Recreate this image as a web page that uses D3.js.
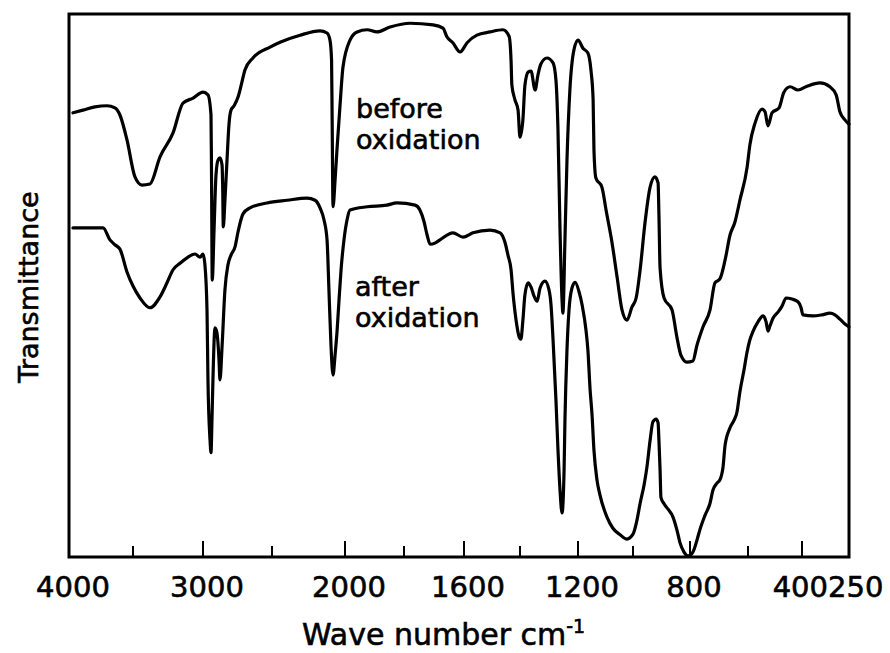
<!DOCTYPE html>
<html><head><meta charset="utf-8">
<script src="https://cdn.jsdelivr.net/npm/d3@7/dist/d3.min.js"></script>
<style>body{margin:0;background:#fff}svg text{font-family:"DejaVu Sans",sans-serif;fill:#000;stroke:#000;stroke-width:0.6px}</style>
</head><body>
<svg id="c" width="890" height="653"></svg>
<script>
// ---- data ----
const majorTicks = [3000, 2000, 1600, 1200, 800, 400];
const minorTicks = [3500, 2500, 1800, 1400, 1000, 600];
const tickLabels = [4000, 3000, 2000, 1600, 1200, 800, 400, 250];
const xTitle = "Wave number cm";
const xTitleSup = "-1";
const yTitle = "Transmittance";
const labelBefore = ["before", "oxidation"];
const labelAfter = ["after", "oxidation"];

// [wave number cm-1, transmittance (arbitrary %)]
const before = [
[3969,81.8],[3891,82.3],[3797,82.9],[3703,83.1],[3641,82.7],[3602,81.4],[3547,76.8],[3486,70.0],[3436,68.5],[3379,68.7],
[3307,73.7],[3214,78.1],[3143,83.6],[3071,84.5],[3000,85.6],[2964,85.1],[2942,81.4],[2938,69.4],[2933,51.0],[2920,60.2],
[2906,70.3],[2891,73.1],[2877,73.5],[2862,72.2],[2857,67.6],[2853,60.8],[2841,65.7],[2826,73.1],[2812,79.6],[2797,82.3],
[2775,83.1],[2746,84.7],[2725,86.7],[2696,89.7],[2638,91.9],[2514,93.9],[2445,94.8],[2308,96.1],[2171,96.9],[2123,96.5],
[2103,95.2],[2092,91.5],[2088,80.5],[2082,64.5],[2068,69.4],[2055,75.0],[2034,83.2],[2014,90.2],[1983,95.2],[1959,96.7],
[1925,97.1],[1892,96.7],[1847,97.6],[1780,98.3],[1703,98.0],[1670,97.4],[1657,95.8],[1637,94.7],[1613,93.0],[1589,94.7],
[1554,96.1],[1507,96.7],[1461,97.1],[1439,95.9],[1432,91.5],[1429,86.9],[1418,84.2],[1407,82.3],[1400,77.3],[1390,80.5],
[1383,86.9],[1372,89.3],[1362,89.5],[1348,86.0],[1338,88.8],[1328,90.8],[1307,91.9],[1286,91.0],[1276,87.8],[1269,78.6],
[1262,60.2],[1255,47.3],[1252,44.9],[1245,58.4],[1238,73.1],[1228,86.0],[1214,93.4],[1200,95.2],[1182,93.7],[1164,92.8],
[1153,89.7],[1145,84.2],[1142,75.0],[1135,69.8],[1113,68.1],[1098,63.9],[1076,57.8],[1058,51.6],[1040,45.5],[1022,43.6],
[1004,46.0],[989,47.7],[975,52.9],[958,61.5],[940,68.1],[923,70.0],[912,68.9],[909,63.0],[905,53.2],[891,47.7],
[863,45.5],[846,40.5],[832,37.2],[811,35.9],[790,36.1],[776,39.0],[755,42.4],[731,45.5],[714,50.5],[697,51.2],
[679,54.7],[662,59.3],[645,61.7],[628,65.7],[603,71.8],[593,75.9],[574,79.9],[548,82.5],[537,82.0],[526,79.4],
[511,81.8],[485,82.7],[467,85.6],[444,86.6],[415,86.0],[384,86.7],[343,87.3],[311,86.6],[291,85.1],[279,82.0],
[263,80.5],[250,79.7]
];
const after = [
[3969,60.6],[3836,60.6],[3734,60.6],[3680,58.4],[3641,57.5],[3602,56.7],[3547,52.5],[3500,49.9],[3450,47.7],[3379,45.9],
[3307,47.9],[3257,50.5],[3214,52.9],[3164,54.1],[3114,55.1],[3057,55.8],[3021,55.2],[3000,55.8],[2986,53.8],[2971,45.5],
[2964,32.6],[2949,21.5],[2942,19.2],[2935,25.2],[2928,32.6],[2913,42.2],[2899,41.3],[2884,36.3],[2877,32.6],[2862,38.7],
[2841,49.2],[2819,53.8],[2797,55.6],[2768,57.1],[2746,59.9],[2710,63.2],[2659,64.3],[2536,65.2],[2397,65.7],[2260,66.1],
[2205,65.7],[2171,64.3],[2144,62.1],[2123,58.4],[2110,49.2],[2096,39.0],[2082,33.5],[2068,37.2],[2055,41.3],[2041,47.3],
[2027,52.9],[2007,58.4],[1993,62.1],[1983,63.9],[1925,64.5],[1858,64.8],[1824,65.2],[1763,64.8],[1747,63.9],[1733,61.7],
[1723,59.3],[1713,57.6],[1697,57.8],[1680,58.4],[1637,59.7],[1603,58.9],[1568,59.7],[1507,60.2],[1471,59.7],[1454,58.0],
[1443,55.6],[1432,52.9],[1425,48.6],[1414,43.6],[1404,40.7],[1397,40.1],[1390,43.6],[1383,48.3],[1372,50.5],[1362,49.7],
[1352,48.1],[1341,47.1],[1331,49.5],[1314,50.8],[1300,49.2],[1293,46.4],[1286,40.0],[1276,28.9],[1269,19.7],[1262,12.3],
[1255,8.1],[1248,16.0],[1245,25.2],[1238,38.1],[1231,45.5],[1221,49.5],[1210,50.6],[1196,48.8],[1185,46.4],[1171,41.8],
[1164,38.1],[1156,30.8],[1149,26.2],[1142,19.7],[1131,14.2],[1120,11.4],[1095,7.4],[1073,5.3],[1047,4.1],[1022,3.3],
[1000,4.2],[986,6.8],[975,9.9],[961,13.3],[951,16.6],[940,21.5],[930,24.9],[919,25.4],[912,24.7],[909,21.5],
[905,16.0],[902,11.0],[891,9.8],[877,8.8],[860,7.4],[846,5.0],[835,2.6],[821,0.9],[807,0.2],[790,0.9],
[776,3.1],[766,5.0],[748,7.7],[731,9.9],[721,12.3],[707,13.6],[697,14.2],[686,16.6],[679,20.6],[662,23.8],
[648,25.2],[638,26.7],[628,30.4],[614,34.4],[603,37.8],[593,40.0],[581,41.6],[563,43.3],[544,44.4],[533,43.3],
[526,41.6],[519,42.5],[507,44.0],[489,45.1],[474,46.2],[459,47.7],[437,47.5],[415,47.0],[404,46.0],[397,44.6],
[365,44.4],[336,44.6],[311,44.9],[295,44.6],[279,43.8],[263,42.9],[250,42.4]
];

// ---- scales ----
const x = d3.scaleLinear()
  .domain([4000,3500,3000,2500,2000,1800,1600,1400,1200,1000,800,600,400,250])
  .range([69,133,203,272,345,404,464,520,578,633,690,748,802,849]);
const y = d3.scaleLinear().domain([0,100]).range([557,14]);

const svg = d3.select("#c");

// curves
const line = d3.line().x(d => x(d[0])).y(d => y(d[1])).curve(d3.curveMonotoneX);
[before, after].forEach(s => {
  svg.append("path").attr("d", line(s)).attr("fill","none")
    .attr("stroke","#000").attr("stroke-width",3.2)
    .attr("stroke-linejoin","round").attr("stroke-linecap","round");
});

// frame
svg.append("rect").attr("x", x(4000)).attr("y", y(100))
  .attr("width", x(250)-x(4000)).attr("height", y(0)-y(100))
  .attr("fill","none").attr("stroke","#000").attr("stroke-width",3);

// ticks (inside, from bottom)
const yb = y(0);
svg.selectAll(".maj").data(majorTicks).enter().append("line")
  .attr("x1", d=>x(d)).attr("x2", d=>x(d)).attr("y1", yb).attr("y2", yb-16)
  .attr("stroke","#000").attr("stroke-width",2);
svg.selectAll(".min").data(minorTicks).enter().append("line")
  .attr("x1", d=>x(d)).attr("x2", d=>x(d)).attr("y1", yb).attr("y2", yb-11)
  .attr("stroke","#000").attr("stroke-width",2);

// tick labels
tickLabels.forEach(v => {
  const t = svg.append("text").attr("y", 597).attr("font-size", 29).text(v);
  if (v === 250) t.attr("x", x(400) + 26).attr("text-anchor","start");
  else if (v === 400) t.attr("x", x(400) + 26).attr("text-anchor","end");
  else t.attr("x", x(v) + 4).attr("text-anchor","middle");
});

// axis titles
const xt = svg.append("text").attr("x", 302).attr("y", 645).attr("font-size", 30);
xt.append("tspan").text(xTitle);
xt.append("tspan").attr("dy", -12).attr("font-size", 19).text(xTitleSup);

svg.append("text").attr("transform","translate(38,287) rotate(-90)")
  .attr("text-anchor","middle").attr("font-size", 27).text(yTitle);

// series labels
const lab = (lines, x0, y0) => lines.forEach((t,i) =>
  svg.append("text").attr("x", x0).attr("y", y0 + i*31).attr("font-size", 27).text(t));
lab(labelBefore, 356, 118);
lab(labelAfter, 355, 296);
</script>
</body></html>
